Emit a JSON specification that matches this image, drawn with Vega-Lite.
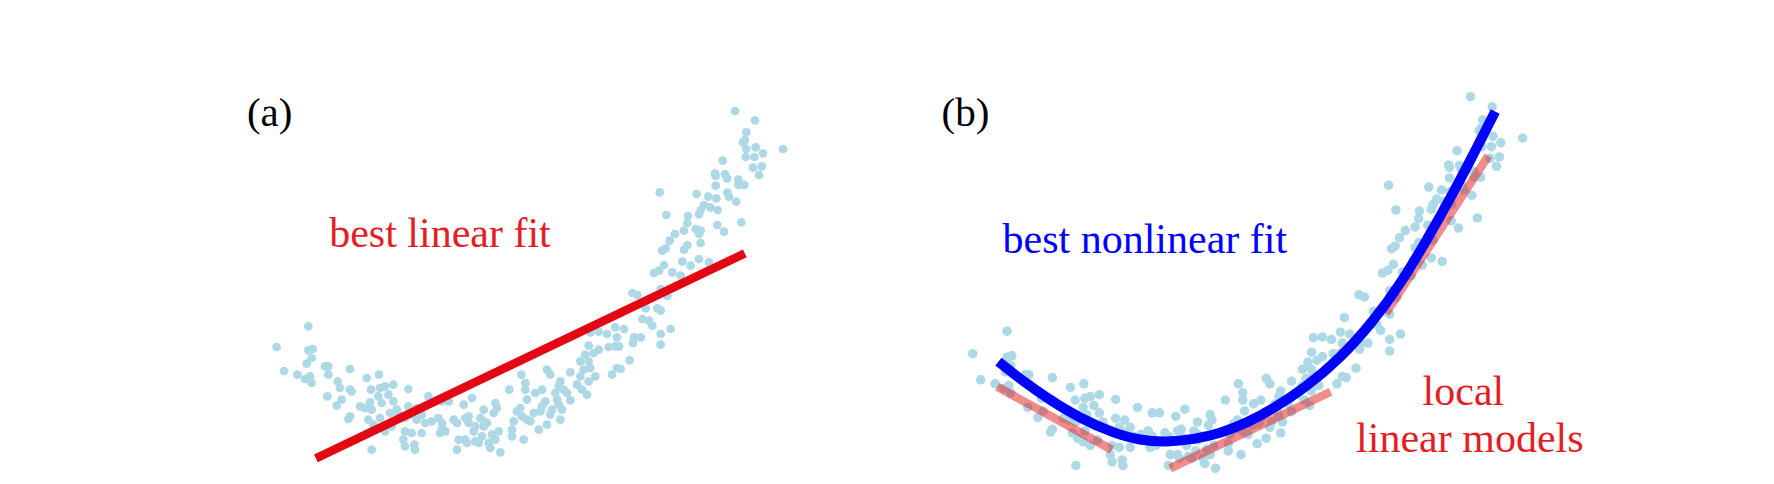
{
  "$schema": "https://vega.github.io/schema/vega-lite/v6.json",
  "width": 1774,
  "height": 484,
  "padding": 0,
  "autosize": "none",
  "background": "white",
  "config": {"view": {"stroke": null}},
  "datasets": {
    "pts": [
      {"x":1363.5,"y":1137},{"x":1417.5,"y":1109},{"x":1394.1,"y":1073},{"x":1390.5,"y":1050},{"x":1385.1,"y":1043},{"x":1394.1,"y":1023},{"x":1419.3,"y":1028},{"x":1439.1,"y":1010},{"x":1493.1,"y":1023},{"x":1392.3,"y":999},{"x":1415.7,"y":999},{"x":1412.1,"y":967},{"x":1435.5,"y":971},{"x":1428.3,"y":945},{"x":1330.2,"y":988},{"x":1309.5,"y":949},{"x":1311.3,"y":942},{"x":1336.5,"y":947},{"x":1341.9,"y":935},{"x":1372.5,"y":931},{"x":1372.5,"y":915},{"x":1388.7,"y":915},{"x":1311.3,"y":913},{"x":1260,"y":888},{"x":1160.1,"y":893},{"x":1291.5,"y":880},{"x":1313.1,"y":875},{"x":1342.8,"y":892},{"x":1347.3,"y":880},{"x":1367.1,"y":865},{"x":1279.8,"y":855},{"x":1296.9,"y":848},{"x":1316.7,"y":840},{"x":1270.8,"y":840},{"x":1266.3,"y":827},{"x":1178.1,"y":825},{"x":1236.6,"y":822},
      {"x":1234.8,"y":801},{"x":1225.8,"y":778},{"x":1257.3,"y":783},{"x":1270.8,"y":778},{"x":1266.3,"y":768},{"x":1315.8,"y":795},{"x":1333.8,"y":775},{"x":1380.6,"y":803},{"x":1201.5,"y":768},{"x":1187.1,"y":748},{"x":1270.8,"y":741},{"x":1234.8,"y":735},{"x":1225.8,"y":721},{"x":1176.3,"y":725},{"x":1167.3,"y":718},{"x":1266.3,"y":693},{"x":1221.3,"y":685},{"x":1243.8,"y":673},{"x":1293.3,"y":683},{"x":1171.8,"y":675},{"x":1144.8,"y":651},{"x":1158.3,"y":658},{"x":1194.3,"y":653},{"x":1216.8,"y":643},{"x":1086.3,"y":591},{"x":1099.8,"y":585},{"x":1162.8,"y":603},{"x":1180.8,"y":583},{"x":1122.3,"y":545},{"x":1153.8,"y":545},{"x":1162.8,"y":538},{"x":1113.3,"y":513},{"x":1131.3,"y":508},{"x":1140.3,"y":493},{"x":1063.8,"y":483},{"x":1090.8,"y":458},{"x":1108.8,"y":458},{"x":1162.8,"y":468},{"x":1189.8,"y":483},{"x":1050.3,"y":528},
      {"x":1050.3,"y":431},{"x":1088,"y":441},{"x":1162.8,"y":436},{"x":1079.1,"y":389},{"x":1054.8,"y":363},
      {"x":973,"y":473},{"x":995.4,"y":475},{"x":1017.9,"y":468},{"x":1040.4,"y":488},{"x":1044.9,"y":458},
      {"x":968.4,"y":433},{"x":995.4,"y":421},{"x":1022.4,"y":429},{"x":1040.4,"y":431},{"x":959.4,"y":406},{"x":981.9,"y":411},{"x":968.4,"y":386},{"x":945.9,"y":386},{"x":954.9,"y":361},{"x":972.9,"y":366},{"x":986.4,"y":341},{"x":945.9,"y":341},{"x":968.4,"y":326},{"x":936.9,"y":316},{"x":950.4,"y":301},{"x":963.9,"y":286},{"x":1031.4,"y":346},{"x":1044.9,"y":366},{"x":918.9,"y":353},{"x":891.9,"y":326},{"x":864.9,"y":346},{"x":855.9,"y":361},{"x":900.9,"y":301},{"x":887.4,"y":311},{"x":878.4,"y":291},{"x":909.9,"y":291},{"x":918.9,"y":269},{"x":882.9,"y":271},{"x":887.4,"y":256},{"x":869.4,"y":241},{"x":896.4,"y":241},{"x":851.4,"y":266},{"x":842.4,"y":251},{"x":864.9,"y":226},{"x":891.9,"y":211},{"x":855.9,"y":196},{"x":833.4,"y":181},{"x":824.4,"y":291},{"x":842.4,"y":301},{"x":801.9,"y":271},{"x":797.4,"y":321},{"x":797.4,"y":301},{"x":786.6,"y":346},{"x":754.2,"y":301},{"x":783.9,"y":246},{"x":774.9,"y":236},{"x":765.9,"y":206},{"x":761.4,"y":181},{"x":761.4,"y":161},{"x":792.9,"y":151},{"x":788.4,"y":221},{"x":801.9,"y":211},{"x":810.9,"y":206},{"x":819.9,"y":231},{"x":837.9,"y":236},{"x":716.4,"y":261},{"x":720.9,"y":246},{"x":711.9,"y":231},{"x":684.9,"y":241},{"x":653.4,"y":276},{"x":630.9,"y":256},{"x":590.4,"y":266},{"x":572.4,"y":266},{"x":603.9,"y":211},{"x":612.9,"y":201},{"x":635.4,"y":216},{"x":644.4,"y":201},{"x":644.4,"y":221},{"x":662.4,"y":191},{"x":675.9,"y":216},{"x":684.9,"y":206},{"x":684.9,"y":191},{"x":693.9,"y":201},{"x":657.9,"y":176},{"x":680.4,"y":161},{"x":707.4,"y":166},{"x":725.4,"y":176},{"x":716.4,"y":151},{"x":698.4,"y":141},{"x":671.4,"y":141},{"x":662.4,"y":146},{"x":635.4,"y":151},{"x":617.4,"y":151},{"x":612.9,"y":121},{"x":639.9,"y":141},{"x":702.9,"y":126},{"x":729.9,"y":113},{"x":572.4,"y":201},{"x":581.4,"y":176},{"x":572.4,"y":186},
      {"x":126,"y":429},{"x":211.5,"y":419},{"x":223.2,"y":423},{"x":220.5,"y":396},{"x":207,"y":379},{"x":145.8,"y":357},{"x":181.8,"y":346},{"x":202.5,"y":333},{"x":216,"y":341},{"x":220.5,"y":321},{"x":256.5,"y":371},{"x":265.5,"y":371},{"x":265.5,"y":346},{"x":324,"y":363},{"x":262.8,"y":281},{"x":290.7,"y":326},{"x":297,"y":306},{"x":324,"y":301},{"x":328.5,"y":296},{"x":301.5,"y":271},{"x":288,"y":253},{"x":369,"y":336},{"x":402.3,"y":346},{"x":319.5,"y":213},{"x":324,"y":221},{"x":351,"y":251},{"x":364.5,"y":246},{"x":378,"y":263},{"x":382.5,"y":241},{"x":380.7,"y":301},{"x":405,"y":306},{"x":418.5,"y":311},{"x":441,"y":316},{"x":427.5,"y":286},{"x":400.5,"y":281},{"x":409.5,"y":261},{"x":481.5,"y":303},{"x":373.5,"y":211},{"x":387,"y":196},{"x":400.5,"y":186},{"x":418.5,"y":176},{"x":436.5,"y":191},{"x":405,"y":216},{"x":432,"y":231},{"x":454.5,"y":226},{"x":472.5,"y":216},{"x":490.5,"y":226},{"x":504,"y":211},{"x":517.5,"y":226},{"x":526.5,"y":201},{"x":535.5,"y":281},{"x":544.5,"y":206},{"x":562.5,"y":216},{"x":567,"y":171},{"x":472.5,"y":176},{"x":490.5,"y":171},{"x":517.5,"y":171},{"x":468,"y":151},{"x":472.5,"y":131},{"x":497.7,"y":136},{"x":499.5,"y":121},{"x":382.5,"y":121},{"x":481.5,"y":251},{"x":504,"y":246},{"x":441,"y":266},{"x":450,"y":241},
      {"x":211.5,"y":491}
    ],
    "linfit": [{"x":232,"y":95},{"x":1390,"y":710}],
    "curve": [
      {"x":190,"y":407},{"x":252,"y":352},{"x":318,"y":301},{"x":393,"y":251},{"x":476,"y":210},{"x":542,"y":190},{"x":608,"y":185},{"x":675,"y":193},{"x":741,"y":209},{"x":807,"y":238},{"x":873,"y":277},{"x":956,"y":338},{"x":1039,"y":415},{"x":1122,"y":518},{"x":1188,"y":618},{"x":1255,"y":742},{"x":1321,"y":872},{"x":1371,"y":978},{"x":1425,"y":1096}
    ],
    "segs": [
      {"seg":1,"x":187,"y":338},{"seg":1,"x":472,"y":164},
      {"seg":2,"x":617,"y":113},{"seg":2,"x":1016,"y":324},
      {"seg":3,"x":1153,"y":540},{"seg":3,"x":1408,"y":974}
    ],
    "labels": [
      {"id":"a_tag","text":"(a)","x":107,"y":1092},
      {"id":"a_fit","text":"best linear fit","x":567,"y":730},
      {"id":"b_tag","text":"(b)","x":108,"y":1056},
      {"id":"b_fit","text":"best nonlinear fit","x":554,"y":706},
      {"id":"b_local1","text":"local","x":1346,"y":288},
      {"id":"b_local2","text":"linear models","x":1362,"y":159}
    ]
  },
  "layer": [
    {
      "layer": [
        {
          "data": {"name": "pts"},
          "mark": {"type": "circle", "size": 76, "color": "#add8e6", "opacity": 1},
          "encoding": {
            "x": {"field": "x", "type": "quantitative", "scale": {"domain": [-621, 4168.8], "nice": false, "zero": false}, "axis": null},
            "y": {"field": "y", "type": "quantitative", "scale": {"domain": [18, 1470], "nice": false, "zero": false}, "axis": null}
          }
        },
        {
          "data": {"name": "linfit"},
          "mark": {"type": "line", "color": "#e30613", "strokeWidth": 8.5, "strokeCap": "butt"},
          "encoding": {
            "x": {"field": "x", "type": "quantitative", "scale": {"domain": [-621, 4168.8], "nice": false, "zero": false}, "axis": null},
            "y": {"field": "y", "type": "quantitative", "scale": {"domain": [18, 1470], "nice": false, "zero": false}, "axis": null}
          }
        },
        {
          "data": {"name": "labels"},
          "transform": [{"filter": "datum.id == 'a_tag'"}],
          "mark": {"type": "text", "font": "Liberation Serif", "fontSize": 41, "color": "#000000", "align": "center", "baseline": "alphabetic"},
          "encoding": {
            "x": {"field": "x", "type": "quantitative", "scale": {"domain": [-621, 4168.8], "nice": false, "zero": false}, "axis": null},
            "y": {"field": "y", "type": "quantitative", "scale": {"domain": [18, 1470], "nice": false, "zero": false}, "axis": null},
            "text": {"field": "text"}
          }
        },
        {
          "data": {"name": "labels"},
          "transform": [{"filter": "datum.id == 'a_fit'"}],
          "mark": {"type": "text", "font": "Liberation Serif", "fontSize": 42, "color": "#e31e24", "align": "center", "baseline": "alphabetic"},
          "encoding": {
            "x": {"field": "x", "type": "quantitative", "scale": {"domain": [-621, 4168.8], "nice": false, "zero": false}, "axis": null},
            "y": {"field": "y", "type": "quantitative", "scale": {"domain": [18, 1470], "nice": false, "zero": false}, "axis": null},
            "text": {"field": "text"}
          }
        }
      ]
    },
    {
      "layer": [
        {
          "data": {"name": "pts"},
          "mark": {"type": "circle", "size": 90, "color": "#add8e6", "opacity": 1},
          "encoding": {
            "x": {"field": "x", "type": "quantitative", "scale": {"domain": [-2292.5, 2118.3], "nice": false, "zero": false}, "axis": null},
            "y": {"field": "y", "type": "quantitative", "scale": {"domain": [69.9, 1403.2], "nice": false, "zero": false}, "axis": null}
          }
        },
        {
          "data": {"name": "segs"},
          "mark": {"type": "line", "color": "#e31a1c", "strokeWidth": 8.5, "strokeCap": "butt", "opacity": 0.5},
          "encoding": {
            "x": {"field": "x", "type": "quantitative", "scale": {"domain": [-2292.5, 2118.3], "nice": false, "zero": false}, "axis": null},
            "y": {"field": "y", "type": "quantitative", "scale": {"domain": [69.9, 1403.2], "nice": false, "zero": false}, "axis": null},
            "detail": {"field": "seg", "type": "nominal"}
          }
        },
        {
          "data": {"name": "curve"},
          "mark": {"type": "line", "color": "#0000ff", "strokeWidth": 10, "strokeCap": "butt", "interpolate": "basis"},
          "encoding": {
            "x": {"field": "x", "type": "quantitative", "scale": {"domain": [-2292.5, 2118.3], "nice": false, "zero": false}, "axis": null},
            "y": {"field": "y", "type": "quantitative", "scale": {"domain": [69.9, 1403.2], "nice": false, "zero": false}, "axis": null}
          }
        },
        {
          "data": {"name": "labels"},
          "transform": [{"filter": "datum.id == 'b_tag'"}],
          "mark": {"type": "text", "font": "Liberation Serif", "fontSize": 41, "color": "#000000", "align": "center", "baseline": "alphabetic"},
          "encoding": {
            "x": {"field": "x", "type": "quantitative", "scale": {"domain": [-2292.5, 2118.3], "nice": false, "zero": false}, "axis": null},
            "y": {"field": "y", "type": "quantitative", "scale": {"domain": [69.9, 1403.2], "nice": false, "zero": false}, "axis": null},
            "text": {"field": "text"}
          }
        },
        {
          "data": {"name": "labels"},
          "transform": [{"filter": "datum.id == 'b_fit'"}],
          "mark": {"type": "text", "font": "Liberation Serif", "fontSize": 42, "color": "#0000ff", "align": "center", "baseline": "alphabetic"},
          "encoding": {
            "x": {"field": "x", "type": "quantitative", "scale": {"domain": [-2292.5, 2118.3], "nice": false, "zero": false}, "axis": null},
            "y": {"field": "y", "type": "quantitative", "scale": {"domain": [69.9, 1403.2], "nice": false, "zero": false}, "axis": null},
            "text": {"field": "text"}
          }
        },
        {
          "data": {"name": "labels"},
          "transform": [{"filter": "datum.id == 'b_local1' || datum.id == 'b_local2'"}],
          "mark": {"type": "text", "font": "Liberation Serif", "fontSize": 42, "color": "#e31e24", "align": "center", "baseline": "alphabetic"},
          "encoding": {
            "x": {"field": "x", "type": "quantitative", "scale": {"domain": [-2292.5, 2118.3], "nice": false, "zero": false}, "axis": null},
            "y": {"field": "y", "type": "quantitative", "scale": {"domain": [69.9, 1403.2], "nice": false, "zero": false}, "axis": null},
            "text": {"field": "text"}
          }
        }
      ]
    }
  ],
  "resolve": {"scale": {"x": "independent", "y": "independent"}}
}
